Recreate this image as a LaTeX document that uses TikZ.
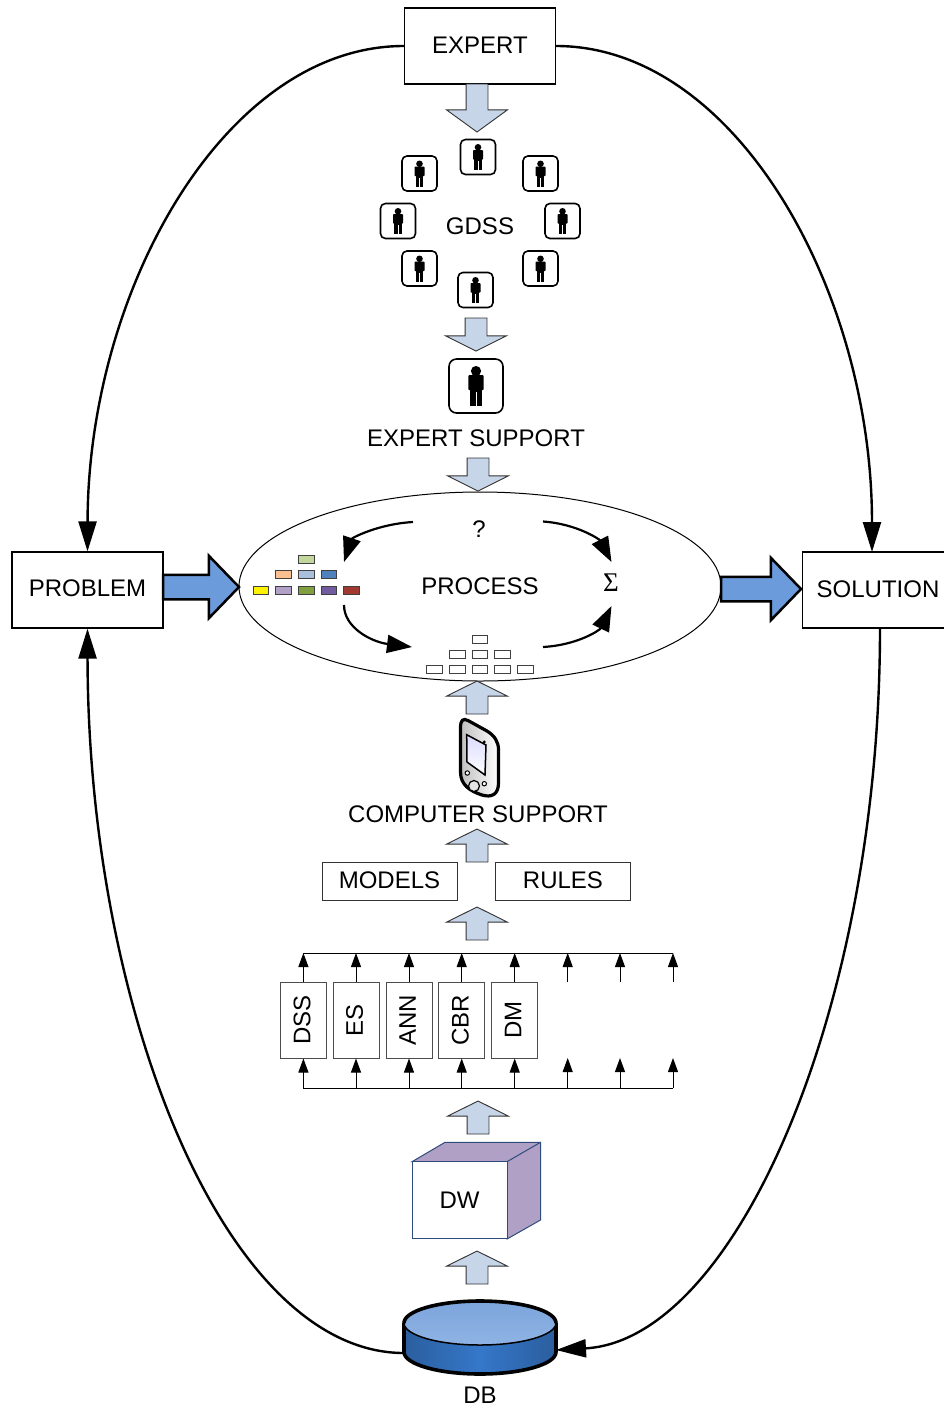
\documentclass[tikz,border=0pt]{standalone}
\usepackage{fontspec}
\setmainfont{Liberation Sans}
\newfontfamily\sigmafont{Liberation Serif}
\usetikzlibrary{arrows.meta, shapes.geometric, shapes.arrows}
\definecolor{flowblue}{HTML}{C6D5E7}
\definecolor{mainblue}{HTML}{6C9BDC}
\definecolor{cubepurple}{HTML}{B0A0C5}
\definecolor{cubeedge}{HTML}{2F4B7C}
\definecolor{dbside}{HTML}{2B5E9E}
\definecolor{dbmiddle}{HTML}{3577C9}
\definecolor{dbtop}{HTML}{7CA5DC}
\definecolor{dbbottom}{HTML}{8FB3E4}
\tikzset{
  every node/.style={font=\fontsize{24}{28}\selectfont},
  label/.style={inner sep=0pt},
  textbox/.style={draw, line width=1.2pt, inner sep=0pt, text depth=2pt, minimum width=151pt, minimum height=76pt},
  smallbox/.style={draw=black!80, line width=1pt, inner sep=0pt, text depth=2pt, minimum width=135pt, minimum height=38pt},
  methodbox/.style={draw=black!70, line width=1pt, inner sep=0pt, text depth=3pt, rotate=90, minimum width=76pt, minimum height=46pt},
  bigline/.style={->, line width=2.4pt, >={Triangle[length=30pt,width=18pt]}},
  cycleline/.style={->, line width=2.2pt, >={Triangle[length=25pt,width=18pt]}},
  thinline/.style={->, line width=1pt, >={Triangle[length=14pt,width=10pt]}},
  flowdown/.style={single arrow, draw=black!80, fill=flowblue, line width=0.9pt, outer sep=0pt, anchor=tip,
    inner xsep=10.5pt, inner ysep=0pt, minimum width=60pt, minimum height=33pt, single arrow head extend=19.5pt,
    single arrow tip angle=127, single arrow head indent=0pt, shape border rotate=270},
  flowup/.style={flowdown, shape border rotate=90},
  mainflow/.style={single arrow, draw=black, fill=mainblue, line width=2.5pt, outer sep=0pt, anchor=tip,
    inner xsep=0pt, inner ysep=11pt, minimum width=60pt, single arrow head extend=19pt,
    single arrow tip angle=92, single arrow head indent=0pt},
  cell/.style={draw=black!75, line width=1pt, inner sep=0pt, minimum width=15.5pt, minimum height=8pt},
  pics/persontile/.style={code={
    \node[draw, line width=1.6pt, rounded corners=#1*0.14pt, inner sep=0pt, minimum size=#1pt] (-box) {};
    \begin{scope}[scale=#1/35]
      \fill (0,-9.7) circle (3.3);
      \fill[rounded corners=0.8pt] (-5,-7) rectangle (5,2.6);
      \fill (-3.7,0) rectangle (3.7,13);
      \draw[white, line width=0.4pt] (0,4) -- (0,13);
    \end{scope}
  }},
}

\begin{document}
\begin{tikzpicture}[x=1pt, y=-1pt]
  \useasboundingbox (0,0) rectangle (944,1406);

  % main boxes
  \node[textbox] (expert) at (480,46) {EXPERT};
  \node[textbox, text depth=4pt] (problem) at (87.5,590) {PROBLEM};
  \node[textbox] (solution) at (878,590) {SOLUTION};
  \coordinate (solutionin) at (872,552);
  \coordinate (solutionout) at (880,628);

  % database
  \coordinate (dbwest) at (404,1353);
  \coordinate (dbeast) at (556,1350);
  \shade[left color=dbside, right color=dbside, middle color=dbmiddle]
    (404,1323) -- (404,1352) arc[start angle=180, end angle=0, x radius=76, y radius=22] -- (556,1323) -- cycle;
  \draw[line width=3.6pt] (404,1323) -- (404,1352) arc[start angle=180, end angle=0, x radius=76, y radius=22] -- (556,1323);
  \shade[top color=dbtop, bottom color=dbbottom, draw=black, line width=1.5pt]
    (480,1323) ellipse[x radius=76, y radius=22];
  \draw[line width=3.6pt] (404,1323) arc[start angle=180, end angle=360, x radius=76, y radius=22];
  \node[label] (db) at (480,1395) {DB};

  % loop round the process
  \draw[bigline] (expert.west) .. controls (225,46) and (88,290) .. (problem.north);
  \draw[bigline] (expert.east) .. controls (735,46) and (872,290) .. (solutionin);
  \draw[bigline] (solutionout) .. controls (880,1010) and (735,1340) .. (dbeast);
  \draw[bigline] (dbwest) .. controls (225,1353) and (88,1010) .. (problem.south);

  % experts
  \node[flowdown, minimum height=48pt, single arrow tip angle=108] (arrowa) at (477,132) {};
  \pic (usera) at (478,157) {persontile=35};
  \pic (userb) at (419.5,173.5) {persontile=35};
  \pic (userc) at (540.5,173.5) {persontile=35};
  \pic (userd) at (398,221) {persontile=35};
  \pic (usere) at (562.5,221) {persontile=35};
  \pic (userf) at (419.5,268.5) {persontile=35};
  \pic (userg) at (540.5,268.5) {persontile=35};
  \pic (userh) at (475.5,290) {persontile=35};
  \node[label] (gdss) at (480,226.5) {GDSS};
  \node[flowdown] (arrowb) at (476,351) {};
  \pic (userbig) at (476,386) {persontile=54};
  \node[label] (expertsupport) at (476,438) {EXPERT SUPPORT};
  \node[flowdown] (arrowc) at (478,491) {};

  % process
  \node[draw, ellipse, line width=1pt, inner sep=0pt, minimum width=482pt, minimum height=189pt] (process) at (480,586.5) {};
  \node[label] (processtext) at (480,586) {PROCESS};
  \node[label] (question) at (479,529) {?};
  \node[label, font=\fontsize{27}{27}\selectfont] (sigma) at (611,583) {\sigmafont Σ};
  \node[mainflow, minimum height=76pt] (arrowin) at (239,587) {};
  \node[mainflow, minimum height=80pt] (arrowout) at (801,589) {};

  \node[cell, fill={rgb,255:red,195;green,214;blue,155}] (c1) at (306.3,559.3) {};
  \node[cell, fill={rgb,255:red,250;green,192;blue,144}] (c2) at (283.7,574.7) {};
  \node[cell, fill={rgb,255:red,169;green,191;blue,220}] (c3) at (306.3,574.7) {};
  \node[cell, fill={rgb,255:red,79;green,129;blue,189}] (c4) at (329,574.7) {};
  \node[cell, fill=yellow] (c5) at (261,590) {};
  \node[cell, fill={rgb,255:red,178;green,161;blue,199}] (c6) at (283.7,590) {};
  \node[cell, fill={rgb,255:red,128;green,160;blue,63}] (c7) at (306.3,590) {};
  \node[cell, fill={rgb,255:red,114;green,91;blue,159}] (c8) at (329,590) {};
  \node[cell, fill={rgb,255:red,160;green,57;blue,47}] (c9) at (351.7,590) {};

  \node[cell] (w1) at (480,639) {};
  \node[cell] (w2) at (457.3,654) {};
  \node[cell] (w3) at (480,654) {};
  \node[cell] (w4) at (502.7,654) {};
  \node[cell] (w5) at (434.7,669) {};
  \node[cell] (w6) at (457.3,669) {};
  \node[cell] (w7) at (480,669) {};
  \node[cell] (w8) at (502.7,669) {};
  \node[cell] (w9) at (525.3,669) {};

  \coordinate (qleft) at (413,522);
  \coordinate (qright) at (543,521.5);
  \coordinate (cellin) at (344,562);
  \coordinate (cellout) at (344,605);
  \coordinate (whitein) at (412,647);
  \coordinate (whiteout) at (543,647);
  \coordinate (sigmain) at (611.5,562);
  \coordinate (sigmaout) at (611.5,606);
  \draw[cycleline] (qleft) .. controls (378,524) and (352,538) .. (cellin);
  \draw[cycleline] (qright) .. controls (578,524) and (600,540) .. (sigmain);
  \draw[cycleline] (cellout) .. controls (344,628) and (372,642) .. (whitein);
  \draw[cycleline] (whiteout) .. controls (578,645) and (600,630) .. (sigmaout);

  % computer support
  \node[flowup] (arrowd) at (477,681) {};
  \shade[left color=black!25, right color=white, draw=black, line width=3.2pt]
    (460.5,728) .. controls (460.5,720) and (463,718) .. (468,720.5) -- (487,731)
    .. controls (495,736) and (498.5,742) .. (498.5,750) -- (498.5,783)
    .. controls (498.5,794) and (492,798) .. (482,795) .. controls (470,791) and (460.5,785) .. (460.5,772) -- cycle;
  \shade[top color=blue!14, bottom color=white, draw=black, line width=1.5pt]
    (466.7,734.7) -- (486,745) -- (485,775) -- (467,762) -- cycle;
  \fill (484.3,742) circle (1.6);
  \draw[fill=black!10, line width=1.2pt] (474,786) circle (5.5);
  \draw[fill=white, line width=1pt] (467.3,773) circle (2.2);
  \draw[fill=white, line width=1pt] (484.3,783.7) circle (2.2);
  \node[label] (computersupport) at (478,814) {COMPUTER SUPPORT};
  \node[flowup] (arrowe) at (477,829) {};
  \node[smallbox] (models) at (389.5,881) {MODELS};
  \node[smallbox] (rules) at (563,881) {RULES};
  \node[flowup] (arrowf) at (477,907) {};

  % methods
  \node[methodbox] (dss) at (303.4,1020) {DSS};
  \node[methodbox] (es) at (356,1020) {ES};
  \node[methodbox] (ann) at (409,1020) {ANN};
  \node[methodbox] (cbr) at (461.7,1020) {CBR};
  \node[methodbox] (dm) at (514.7,1020) {DM};
  \coordinate (ta) at (303.4,953);
  \coordinate (tb) at (356,953);
  \coordinate (tc) at (409,953);
  \coordinate (td) at (461.7,953);
  \coordinate (te) at (514.7,953);
  \coordinate (tf) at (567.7,953);
  \coordinate (tg) at (620,953);
  \coordinate (th) at (673,953);
  \coordinate (ba) at (303.4,1088);
  \coordinate (bb) at (356,1088);
  \coordinate (bc) at (409,1088);
  \coordinate (bd) at (461.7,1088);
  \coordinate (be) at (514.7,1088);
  \coordinate (bf) at (567.7,1088);
  \coordinate (bg) at (620,1088);
  \coordinate (bh) at (673,1088);
  \coordinate (mfu) at (567.7,982);
  \coordinate (mgu) at (620,982);
  \coordinate (mhu) at (673,982);
  \coordinate (mfd) at (567.7,1058);
  \coordinate (mgd) at (620,1058);
  \coordinate (mhd) at (673,1058);
  \draw[line width=1pt] (ta) -- (th);
  \draw[line width=1pt] (ba) -- (bh);
  \draw (dss) edge[thinline] (ta)
        (es) edge[thinline] (tb)
        (ann) edge[thinline] (tc)
        (cbr) edge[thinline] (td)
        (dm) edge[thinline] (te)
        (mfu) edge[thinline] (tf)
        (mgu) edge[thinline] (tg)
        (mhu) edge[thinline] (th)
        (ba) edge[thinline] (dss)
        (bb) edge[thinline] (es)
        (bc) edge[thinline] (ann)
        (bd) edge[thinline] (cbr)
        (be) edge[thinline] (dm)
        (bf) edge[thinline] (mfd)
        (bg) edge[thinline] (mgd)
        (bh) edge[thinline] (mhd);

  % warehouse
  \node[flowup] (arrowg) at (478,1101) {};
  \filldraw[fill=cubepurple, draw=cubeedge, line width=1pt] (412,1161.7) -- (445,1142.3) -- (540.5,1142.3) -- (540.5,1220) -- (507,1239) -- (507,1161.7) -- cycle;
  \draw[cubeedge, line width=1pt] (507,1161.7) -- (540.5,1142.3);
  \node[draw=cubeedge, fill=white, line width=1pt, inner sep=0pt, minimum width=95pt, minimum height=77.3pt] (dw) at (459.5,1200.3) {DW};
  \node[flowup] (arrowh) at (477,1251) {};
\end{tikzpicture}
\end{document}
